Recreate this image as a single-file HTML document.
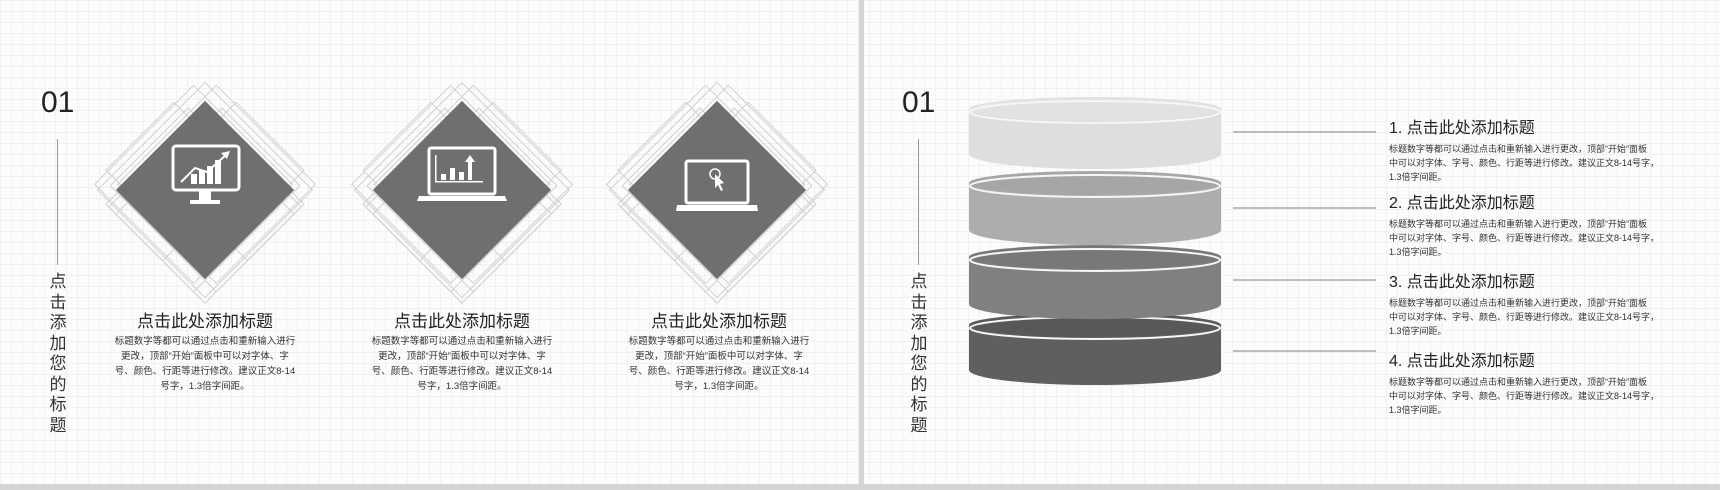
<!DOCTYPE html>
<html><head><meta charset="utf-8"><style>
*{margin:0;padding:0;box-sizing:border-box}
body{width:1720px;height:490px;overflow:hidden;position:relative;font-family:"Liberation Sans","Noto Sans CJK SC",sans-serif;color:#222;
background-color:#fcfcfc;
background-image:linear-gradient(#f1f1f1 1px,transparent 1px),linear-gradient(90deg,#f1f1f1 1px,transparent 1px);background-size:11px 11px}
.a{position:absolute;white-space:nowrap}
.num{font-size:30px;color:#222;font-family:"Liberation Sans","DejaVu Sans",sans-serif}
.vl{position:absolute;width:1px;background:#999}
.vt{position:absolute;width:20px;font-size:17px;line-height:20.5px;text-align:center;color:#333}
.t{font-size:17px;color:#222}
.b{font-size:9.5px;line-height:15px;color:#333;text-align:center}
.rt{font-size:16px;color:#222}
.rb{font-size:9px;line-height:14px;color:#333}
</style></head><body>
<div class="a" style="left:859px;top:0;width:5px;height:490px;background:#d4d4d4"></div>
<div class="a" style="left:0;top:484px;width:859px;height:6px;background:#d4d4d4"></div>
<div class="a" style="left:864px;top:484px;width:856px;height:6px;background:#d4d4d4"></div>

<div class="a num" style="left:41px;top:86px">01</div>
<div class="vl" style="left:57px;top:139px;height:126px"></div>
<div class="vt" style="left:48px;top:272px">点<br>击<br>添<br>加<br>您<br>的<br>标<br>题</div>

<svg class="a" style="left:0;top:0" width="860" height="484">
<defs>
<g id="fr" fill="none" stroke="#d0d0d0" stroke-width="1" transform="rotate(45)">
<rect x="-76" y="-76" width="152" height="152"/>
<rect x="-66" y="-82" width="140" height="140"/>
<rect x="-82" y="-66" width="140" height="140"/>
<rect x="-56" y="-56" width="136" height="136"/>
<rect x="-70" y="-46" width="150" height="110"/>
<rect x="-46" y="-70" width="110" height="150"/>
<rect x="-84" y="-40" width="120" height="96"/>
<rect x="-40" y="-84" width="96" height="120"/>
<rect x="-20" y="-60" width="100" height="80"/>
<rect x="-60" y="-20" width="80" height="100"/>
</g>
</defs>
<g transform="translate(205,190)"><use href="#fr"/><rect x="-63" y="-63" width="126" height="126" fill="#6f6f6f" transform="rotate(45)"/>
<g fill="none" stroke="#fff" stroke-width="3"><rect x="-32" y="-44" width="66" height="44" rx="3"/></g>
<rect x="-6" y="1" width="12" height="10" fill="#fff"/><rect x="-15" y="10" width="30" height="4" fill="#fff"/>
<g fill="#fff"><rect x="-14" y="-16" width="6" height="10"/><rect x="-6" y="-20" width="6" height="14"/><rect x="2" y="-24" width="6" height="18"/><rect x="10" y="-30" width="6" height="24"/></g>
<polyline points="-24,-8 -10,-22 2,-18 22,-36" fill="none" stroke="#fff" stroke-width="2"/><polygon points="25,-39 16,-37 22,-31" fill="#fff"/>
</g>
<g transform="translate(462,190)"><use href="#fr"/><rect x="-63" y="-63" width="126" height="126" fill="#6f6f6f" transform="rotate(45)"/>
<rect x="-33" y="-42" width="66" height="46" rx="2" fill="none" stroke="#fff" stroke-width="3"/>
<path d="M-43,6 H43 L45,11 H-45 Z" fill="#fff"/>
<g fill="#fff"><rect x="-21" y="-16" width="5" height="6"/><rect x="-12" y="-22" width="5" height="12"/><rect x="-3" y="-18" width="5" height="8"/><rect x="6" y="-28" width="4" height="18"/><polygon points="3,-28 13,-28 8,-35"/><rect x="-27" y="-35" width="1.5" height="27"/><rect x="-27" y="-9" width="48" height="1.5"/></g>
</g>
<g transform="translate(717,190)"><use href="#fr"/><rect x="-63" y="-63" width="126" height="126" fill="#6f6f6f" transform="rotate(45)"/>
<rect x="-31" y="-29" width="62" height="42" rx="2" fill="none" stroke="#fff" stroke-width="3"/>
<path d="M-40,15 H40 L41,21 H-41 Z" fill="#fff"/>
<circle cx="-2" cy="-16" r="5" fill="none" stroke="#fff" stroke-width="1.5"/>
<polygon points="-2,-16 -2,-2 1,-5 4,1 6,0 3,-6 7,-7" fill="#fff"/>
</g>
</svg>

<div class="a t" style="left:105px;top:307px;width:200px;text-align:center">点击此处添加标题</div>
<div class="a b" style="left:105px;top:334px;width:200px">标题数字等都可以通过点击和重新输入进行<br>更改，顶部“开始”面板中可以对字体、字<br>号、颜色、行距等进行修改。建议正文8-14<br>号字，1.3倍字间距。</div>
<div class="a t" style="left:362px;top:307px;width:200px;text-align:center">点击此处添加标题</div>
<div class="a b" style="left:362px;top:334px;width:200px">标题数字等都可以通过点击和重新输入进行<br>更改，顶部“开始”面板中可以对字体、字<br>号、颜色、行距等进行修改。建议正文8-14<br>号字，1.3倍字间距。</div>
<div class="a t" style="left:619px;top:307px;width:200px;text-align:center">点击此处添加标题</div>
<div class="a b" style="left:619px;top:334px;width:200px">标题数字等都可以通过点击和重新输入进行<br>更改，顶部“开始”面板中可以对字体、字<br>号、颜色、行距等进行修改。建议正文8-14<br>号字，1.3倍字间距。</div>

<div class="a num" style="left:902px;top:86px">01</div>
<div class="vl" style="left:918px;top:139px;height:126px"></div>
<div class="vt" style="left:909px;top:272px">点<br>击<br>添<br>加<br>您<br>的<br>标<br>题</div>

<svg class="a" style="left:860px;top:0" width="860" height="484">
<path d="M109,325 V370 A126,15 0 0 0 361,370 V325 Z" fill="#5f5f5f"/>
<ellipse cx="235" cy="325" rx="126" ry="12" fill="#585858"/>
<ellipse cx="235" cy="328" rx="125" ry="11" fill="none" stroke="#f6f6f6" stroke-width="2"/>
<path d="M109,257 V304 A126,15 0 0 0 361,304 V257 Z" fill="#808080"/>
<ellipse cx="235" cy="257" rx="126" ry="12" fill="#787878"/>
<ellipse cx="235" cy="260" rx="125" ry="11" fill="none" stroke="#f6f6f6" stroke-width="2"/>
<path d="M109,183 V230 A126,15 0 0 0 361,230 V183 Z" fill="#adadad"/>
<ellipse cx="235" cy="183" rx="126" ry="12" fill="#a6a6a6"/>
<ellipse cx="235" cy="186" rx="125" ry="11" fill="none" stroke="#f6f6f6" stroke-width="2"/>
<path d="M109,109 V154 A126,15 0 0 0 361,154 V109 Z" fill="#dedede"/>
<ellipse cx="235" cy="109" rx="126" ry="12" fill="#e2e2e2"/>
<ellipse cx="235" cy="112" rx="125" ry="11" fill="none" stroke="#f6f6f6" stroke-width="2"/>
<g stroke="#aaa" stroke-width="1.5">
<line x1="373" y1="132" x2="516" y2="132"/><line x1="373" y1="208" x2="516" y2="208"/>
<line x1="373" y1="280" x2="516" y2="280"/><line x1="373" y1="351" x2="516" y2="351"/>
</g>
</svg>

<div class="a rt" style="left:1389px;top:114px">1. 点击此处添加标题</div>
<div class="a rb" style="left:1389px;top:142px">标题数字等都可以通过点击和重新输入进行更改，顶部“开始”面板<br>中可以对字体、字号、颜色、行距等进行修改。建议正文8-14号字，<br>1.3倍字间距。</div>
<div class="a rt" style="left:1389px;top:189px">2. 点击此处添加标题</div>
<div class="a rb" style="left:1389px;top:217px">标题数字等都可以通过点击和重新输入进行更改，顶部“开始”面板<br>中可以对字体、字号、颜色、行距等进行修改。建议正文8-14号字，<br>1.3倍字间距。</div>
<div class="a rt" style="left:1389px;top:268px">3. 点击此处添加标题</div>
<div class="a rb" style="left:1389px;top:296px">标题数字等都可以通过点击和重新输入进行更改，顶部“开始”面板<br>中可以对字体、字号、颜色、行距等进行修改。建议正文8-14号字，<br>1.3倍字间距。</div>
<div class="a rt" style="left:1389px;top:347px">4. 点击此处添加标题</div>
<div class="a rb" style="left:1389px;top:375px">标题数字等都可以通过点击和重新输入进行更改，顶部“开始”面板<br>中可以对字体、字号、颜色、行距等进行修改。建议正文8-14号字，<br>1.3倍字间距。</div>
</body></html>
